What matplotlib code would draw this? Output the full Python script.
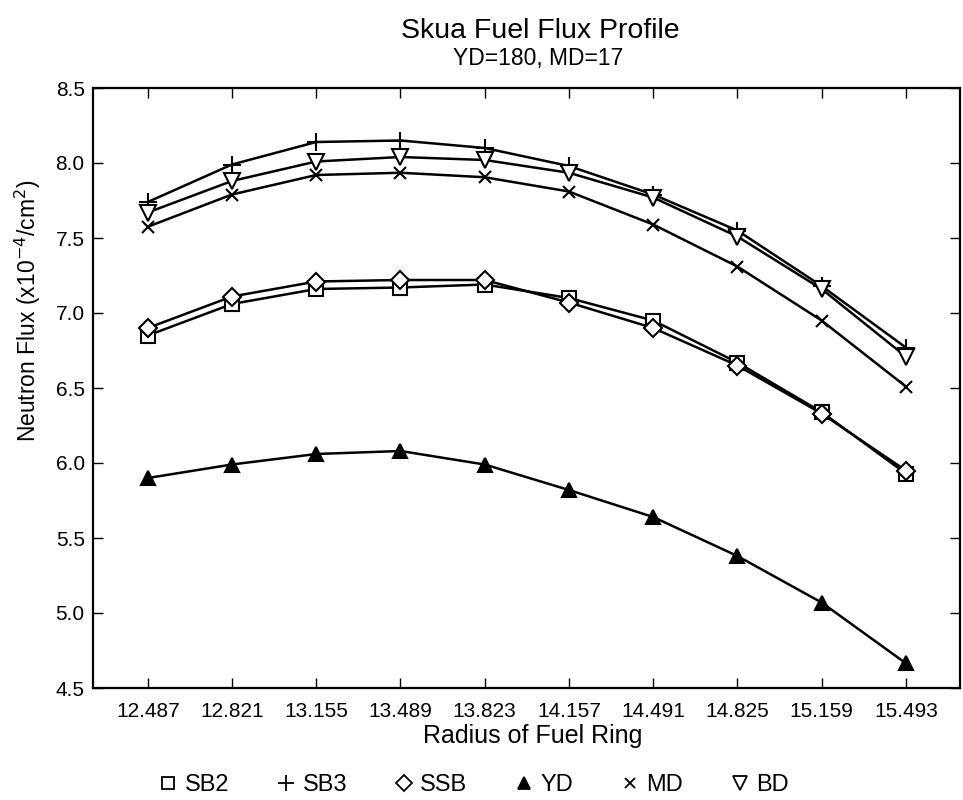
import matplotlib
matplotlib.use("Agg")
import matplotlib.pyplot as plt
from matplotlib.lines import Line2D
import numpy as np

plt.rcParams['font.family'] = ['Liberation Sans', 'DejaVu Sans']

radius_labels = ['12.487', '12.821', '13.155', '13.489', '13.823',
                 '14.157', '14.491', '14.825', '15.159', '15.493']

sb2 = [6.85, 7.06, 7.16, 7.17, 7.19, 7.10, 6.95, 6.67, 6.34, 5.93]
sb3 = [7.74, 7.99, 8.14, 8.15, 8.10, 7.98, 7.79, 7.55, 7.18, 6.77]
ssb = [6.90, 7.11, 7.21, 7.22, 7.22, 7.07, 6.90, 6.65, 6.33, 5.95]
yd = [5.90, 5.99, 6.06, 6.08, 5.99, 5.82, 5.64, 5.38, 5.07, 4.665]
md = [7.575, 7.79, 7.92, 7.935, 7.905, 7.81, 7.59, 7.31, 6.95, 6.51]
bd = [7.67, 7.88, 8.01, 8.04, 8.02, 7.935, 7.77, 7.51, 7.16, 6.71]

series = [
    ('SB2', sb2, 's', 'white', 10),
    ('SB3', sb3, '+', 'black', 13),
    ('SSB', ssb, 'D', 'white', 9),
    ('YD', yd, '^', 'black', 10),
    ('MD', md, 'x', 'black', 8),
    ('BD', bd, 'v', 'white', 12),
]

fig = plt.figure(figsize=(9.63, 8), dpi=100)
ax = fig.add_axes([0.0966, 0.14, 0.9, 0.75])

x = np.arange(len(radius_labels))
for name, vals, mk, fc, ms in series:
    ax.plot(x, vals, color='black', lw=1.8, marker=mk, markersize=ms,
            markerfacecolor=fc, markeredgecolor='black', markeredgewidth=1.5,
            zorder=3)

ax.set_xlim(-0.65, 9.64)
ax.set_ylim(4.5, 8.5)
ax.set_xticks(x)
ax.set_xticklabels(radius_labels)
ax.set_yticks(np.arange(4.5, 8.51, 0.5))
ax.set_yticklabels([f'{v:.1f}' for v in np.arange(4.5, 8.51, 0.5)])
ax.tick_params(direction='in', top=True, right=True, length=7, width=1,
               labelsize=15)
ax.tick_params(axis='x', pad=10)
ax.tick_params(axis='y', pad=6)
for s in ax.spines.values():
    s.set_linewidth(1.6)

ax.set_xlabel('Radius of Fuel Ring', fontsize=18)
ax.xaxis.set_label_coords((533 - 93) / 867, -0.06)
ax.set_ylabel('Neutron Flux (x10$^{-4}$/cm$^{2}$)', fontsize=16.5)
ax.yaxis.set_label_coords(-0.058, 0.628)

fig.text(540 / 963, 1 - 31 / 800, 'Skua Fuel Flux Profile', fontsize=20.5,
         ha='center', va='center')
fig.text(538 / 963, 1 - 59 / 800, 'YD=180, MD=17', fontsize=16.5,
         ha='center', va='center')

handles = []
for name, vals, mk, fc, ms in series:
    handles.append(Line2D([], [], color='black', lw=0, marker=mk,
                          markersize=ms * 0.85, markerfacecolor=fc,
                          markeredgecolor='black', markeredgewidth=1.3,
                          label=name))
fig.legend(handles=handles, loc='center', bbox_to_anchor=(474 / 963, 1 - 785 / 800),
           ncol=6, frameon=False, fontsize=17, handlelength=0.8,
           handletextpad=0.3, columnspacing=2.0)

fig.savefig('out.png', dpi=100)
